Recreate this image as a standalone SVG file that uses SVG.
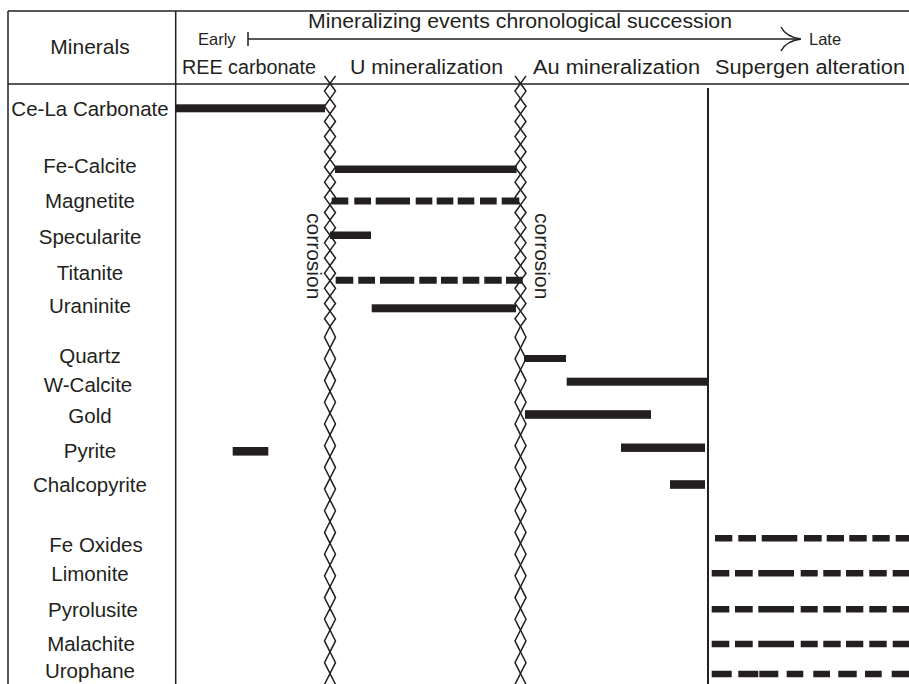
<svg xmlns="http://www.w3.org/2000/svg" xmlns:xlink="http://www.w3.org/1999/xlink" width="909" height="684" viewBox="0 0 909 684">
<style>
text{font-family:"Liberation Sans",Arial,sans-serif;fill:#231f20}
.lbl{font-size:20.5px;text-anchor:middle}
.hdr{font-size:20px}
.sm{font-size:16.5px}
.frame{stroke:#231f20;stroke-width:1.5;fill:none}
.bar{fill:#231f20}
.dm{stroke:#231f20;stroke-width:7;fill:none}
.dr{stroke:#231f20;stroke-width:6.5;fill:none}
.chain{stroke:#231f20;stroke-width:1.5;fill:none;stroke-linejoin:miter}
</style>
<defs>
<path id="zz" d="M-5.5,75.91 L0,83.5 l5.5,7.5875 l-5.5,7.5875 l5.5,7.5875 l-5.5,7.5875 l5.5,7.5875 l-5.5,7.5875 l5.5,7.5875 l-5.5,7.5875 l5.5,7.5875 l-5.5,7.5875 l5.5,7.5875 l-5.5,7.5875 l5.5,7.5875 l-5.5,7.5875 l5.5,7.5875 l-5.5,7.5875 l5.5,7.5875 l-5.5,7.5875 l5.5,7.5875 l-5.5,7.5875 l5.5,7.5875 l-5.5,7.5875 l5.5,7.5875 l-5.5,7.5875 l5.5,7.5875 l-5.5,7.5875 l5.5,7.5875 l-5.5,7.5875 l5.5,7.5875 l-5.5,7.5875 l5.5,7.5875 l-5.5,7.5875 l5.5,10.85 l-5.5,10.85 l5.5,10.85 l-5.5,10.85 l5.5,10.85 l-5.5,10.85 l5.5,10.85 l-5.5,10.85 l5.5,10.85 l-5.5,10.85 l5.5,10.85 l-5.5,10.85 l5.5,10.85 l-5.5,10.85 l5.5,10.85 l-5.5,10.85 l5.5,10.85 l-5.5,10.85 l5.5,10.85 l-5.5,10.85 l5.5,10.85 l-5.5,10.85 l5.5,10.85 l-5.5,10.85 l5.5,10.85 l-5.5,10.85 l5.5,10.85 l-5.5,10.85 l5.5,10.85 l-5.5,10.85 l5.5,10.85 l-5.5,10.85 l5.5,10.85 l-5.5,10.85"/>
</defs>
<rect width="909" height="684" fill="#fff"/>

<g id="table-frame" class="frame">
<path d="M8,11 H909 M8,11 V684 M175.7,11 V684 M8,84 H909"/>
<path d="M708,88 V684" stroke-width="2"/>
</g>

<g id="header">
<text id="t-minerals" x="90" y="54" style="font-size:21px;text-anchor:middle">Minerals</text>
<text id="t-title" x="308" y="28" style="font-size:20.5px" textLength="424" lengthAdjust="spacingAndGlyphs">Mineralizing events chronological succession</text>
<text id="t-early" class="sm" x="198" y="45">Early</text>
<text id="t-late" class="sm" x="809" y="45">Late</text>
<text id="t-ree" class="hdr" x="182" y="74" textLength="134" lengthAdjust="spacingAndGlyphs">REE carbonate</text>
<text id="t-u" class="hdr" x="350" y="74" textLength="153" lengthAdjust="spacingAndGlyphs">U mineralization</text>
<text id="t-au" class="hdr" x="533" y="74" textLength="167" lengthAdjust="spacingAndGlyphs">Au mineralization</text>
<text id="t-sup" class="hdr" x="715" y="74" textLength="190" lengthAdjust="spacingAndGlyphs">Supergen alteration</text>
</g>

<g id="connectors">
<g id="timeline" class="frame">
<path d="M248,39 H800 M248,32 V46"/>
<path d="M781,27 Q786,37 801,39 M781,51 Q786,41 801,39"/>
</g>
<g id="chain-1" class="chain">
<use xlink:href="#zz" href="#zz" transform="translate(330,0)"/>
<use xlink:href="#zz" href="#zz" transform="translate(330,0) scale(-1,1)"/>
</g>
<g id="chain-2" class="chain">
<use xlink:href="#zz" href="#zz" transform="translate(520.5,0)"/>
<use xlink:href="#zz" href="#zz" transform="translate(520.5,0) scale(-1,1)"/>
</g>
</g>

<g id="corrosion">
<text x="0" y="0" style="font-size:21px" transform="translate(307,213) rotate(90)">corrosion</text>
<text x="0" y="0" style="font-size:21px" transform="translate(535,213) rotate(90)">corrosion</text>
</g>

<g id="labels" class="lbl">
<text x="90" y="116">Ce-La Carbonate</text>
<text x="90" y="173">Fe-Calcite</text>
<text x="90" y="208">Magnetite</text>
<text x="90" y="244">Specularite</text>
<text x="90" y="280">Titanite</text>
<text x="90" y="313">Uraninite</text>
<text x="90" y="363">Quartz</text>
<text x="88" y="392">W-Calcite</text>
<text x="90" y="423">Gold</text>
<text x="90" y="458">Pyrite</text>
<text x="90" y="492">Chalcopyrite</text>
<text x="96" y="552">Fe Oxides</text>
<text x="90" y="581">Limonite</text>
<text x="93" y="617">Pyrolusite</text>
<text x="91" y="651">Malachite</text>
<text x="90" y="678">Urophane</text>
</g>

<g id="bars" class="bar">
<rect id="b-cela" x="175.7" y="104.3" width="149.3" height="8"/>
<rect id="b-fecalcite" x="335" y="165.5" width="181.7" height="7.5"/>
<rect id="b-specularite" x="330" y="231.5" width="41" height="7.5"/>
<rect id="b-uraninite" x="371.7" y="304.3" width="144.3" height="8"/>
<rect id="b-quartz" x="524" y="355" width="42" height="7"/>
<rect id="b-wcalcite" x="566.7" y="377.7" width="141.3" height="8"/>
<rect id="b-gold" x="525" y="410.2" width="126" height="8.6"/>
<rect id="b-pyrite-r" x="621" y="443.5" width="84" height="8.4"/>
<rect id="b-pyrite-l" x="232.7" y="447" width="35.6" height="8.6"/>
<rect id="b-chalco" x="670" y="480.2" width="35" height="8.6"/>
</g>

<g id="dashed-bars">
<path class="dm" d="M331.7,201 H519.3" stroke-dasharray="16.6 6 16.7 4.7 34.3 5.7 16.6 4.4 16.6 4.4 16.6 5.7 16.7 5 17.6 60"/>
<path class="dm" d="M335.7,280.3 H522.7" stroke-dasharray="17.6 5 16.7 5 34.3 5 17.4 4.3 16.7 5 16.6 5 17.4 4.3 16.7 60"/>
<path class="dr" d="M715,538.3 H909" stroke-dasharray="17.3 6 17.7 5.7 35.6 6.7 17.7 5 17.3 5.3 17.4 5.7 17.3 6 20 60"/>
<path class="dr" d="M711.7,573.3 H909" stroke-dasharray="17.6 5.7 17.7 5.6 35.7 6.7 17 5.6 17.4 5.3 17.3 6 17.4 6 20 60"/>
<path class="dr" d="M711.7,609.3 H909" stroke-dasharray="17.6 5.7 17.7 5.6 35.7 6.7 17 5.6 17.4 5.3 17.3 6 17.4 6 20 60"/>
<path class="dr" d="M711.7,644 H909" stroke-dasharray="17.6 5.7 17.7 5.6 35.7 6.7 17 5.6 17.4 5.3 17.3 6 17.4 6 20 60"/>
<path class="dr" d="M711.7,674 H909" stroke-dasharray="20 6.6 20 1 19 8.4 16.6 10 16.7 8.3 18.4 8.3 16.7 10 20 60"/>
</g>
</svg>
